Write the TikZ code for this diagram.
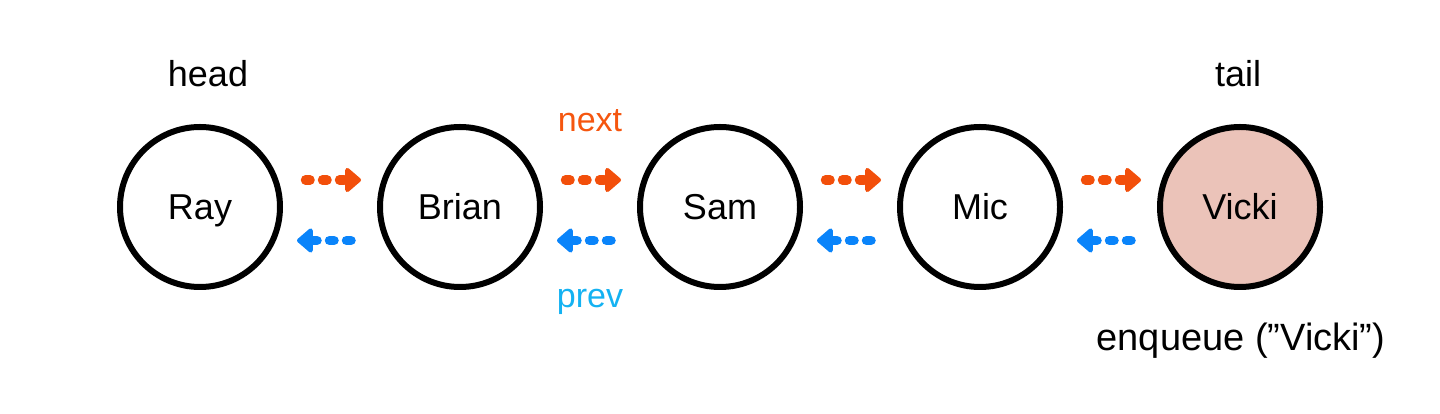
\documentclass[tikz,border=0pt]{standalone}
\usepackage{fontspec}
\setmainfont{Liberation Sans}
\usetikzlibrary{arrows.meta}
\definecolor{nextc}{HTML}{F24F0B}
\definecolor{nexttxt}{HTML}{F5560F}
\definecolor{prevc}{HTML}{0A84FA}
\definecolor{prevtxt}{HTML}{14B2F2}
\definecolor{vfill}{HTML}{EBC3B9}
\tikzset{
  person/.style={circle, draw=black, line width=6pt, minimum size=160pt, inner sep=0pt,
    text height=25.8pt, text depth=0pt, font=\fontsize{36}{40}\selectfont},
  lbl/.style={font=\fontsize{36}{40}\selectfont},
  smalllbl/.style={font=\fontsize{34}{38}\selectfont},
  linkarr/.style={line width=9.5pt, line cap=round, dash pattern=on 4.5pt off 12.5pt,
    -{Triangle[round, length=17pt, width=28pt]}},
  nextarr/.style={linkarr, draw=nextc},
  prevarr/.style={linkarr, draw=prevc},
}
\begin{document}
\begin{tikzpicture}[x=1pt,y=1pt]
\useasboundingbox (0,0) rectangle (1440,414);
\node[person] (ray) at (200,207) {Ray};
\node[person] (brian) at (460,207) {Brian};
\node[person] (sam) at (720,207) {Sam};
\node[person] (mic) at (980,207) {Mic};
\node[person, fill=vfill] (vicki) at (1240,207) {Vicki};

\foreach \a/\b in {ray/brian, brian/sam, sam/mic, mic/vicki}{
  \draw[nextarr] ([xshift=22.5pt,yshift=27pt]\a.east) -- ([xshift=-16pt,yshift=27pt]\b.west);
  \draw[prevarr] ([xshift=-26pt,yshift=-33.5pt]\b.west) -- ([xshift=14pt,yshift=-33.5pt]\a.east);
}

\node[lbl] (head) at (208,340) {head};
\node[lbl] (tail) at (1238,340) {tail};
\node[smalllbl, text=nexttxt] (next) at (590,293) {next};
\node[smalllbl, text=prevtxt] (prev) at (590,112) {prev};
\node[font=\fontsize{38}{42}\selectfont] (enq) at (1241,73) {enqueue (”Vicki”)};
\end{tikzpicture}
\end{document}
